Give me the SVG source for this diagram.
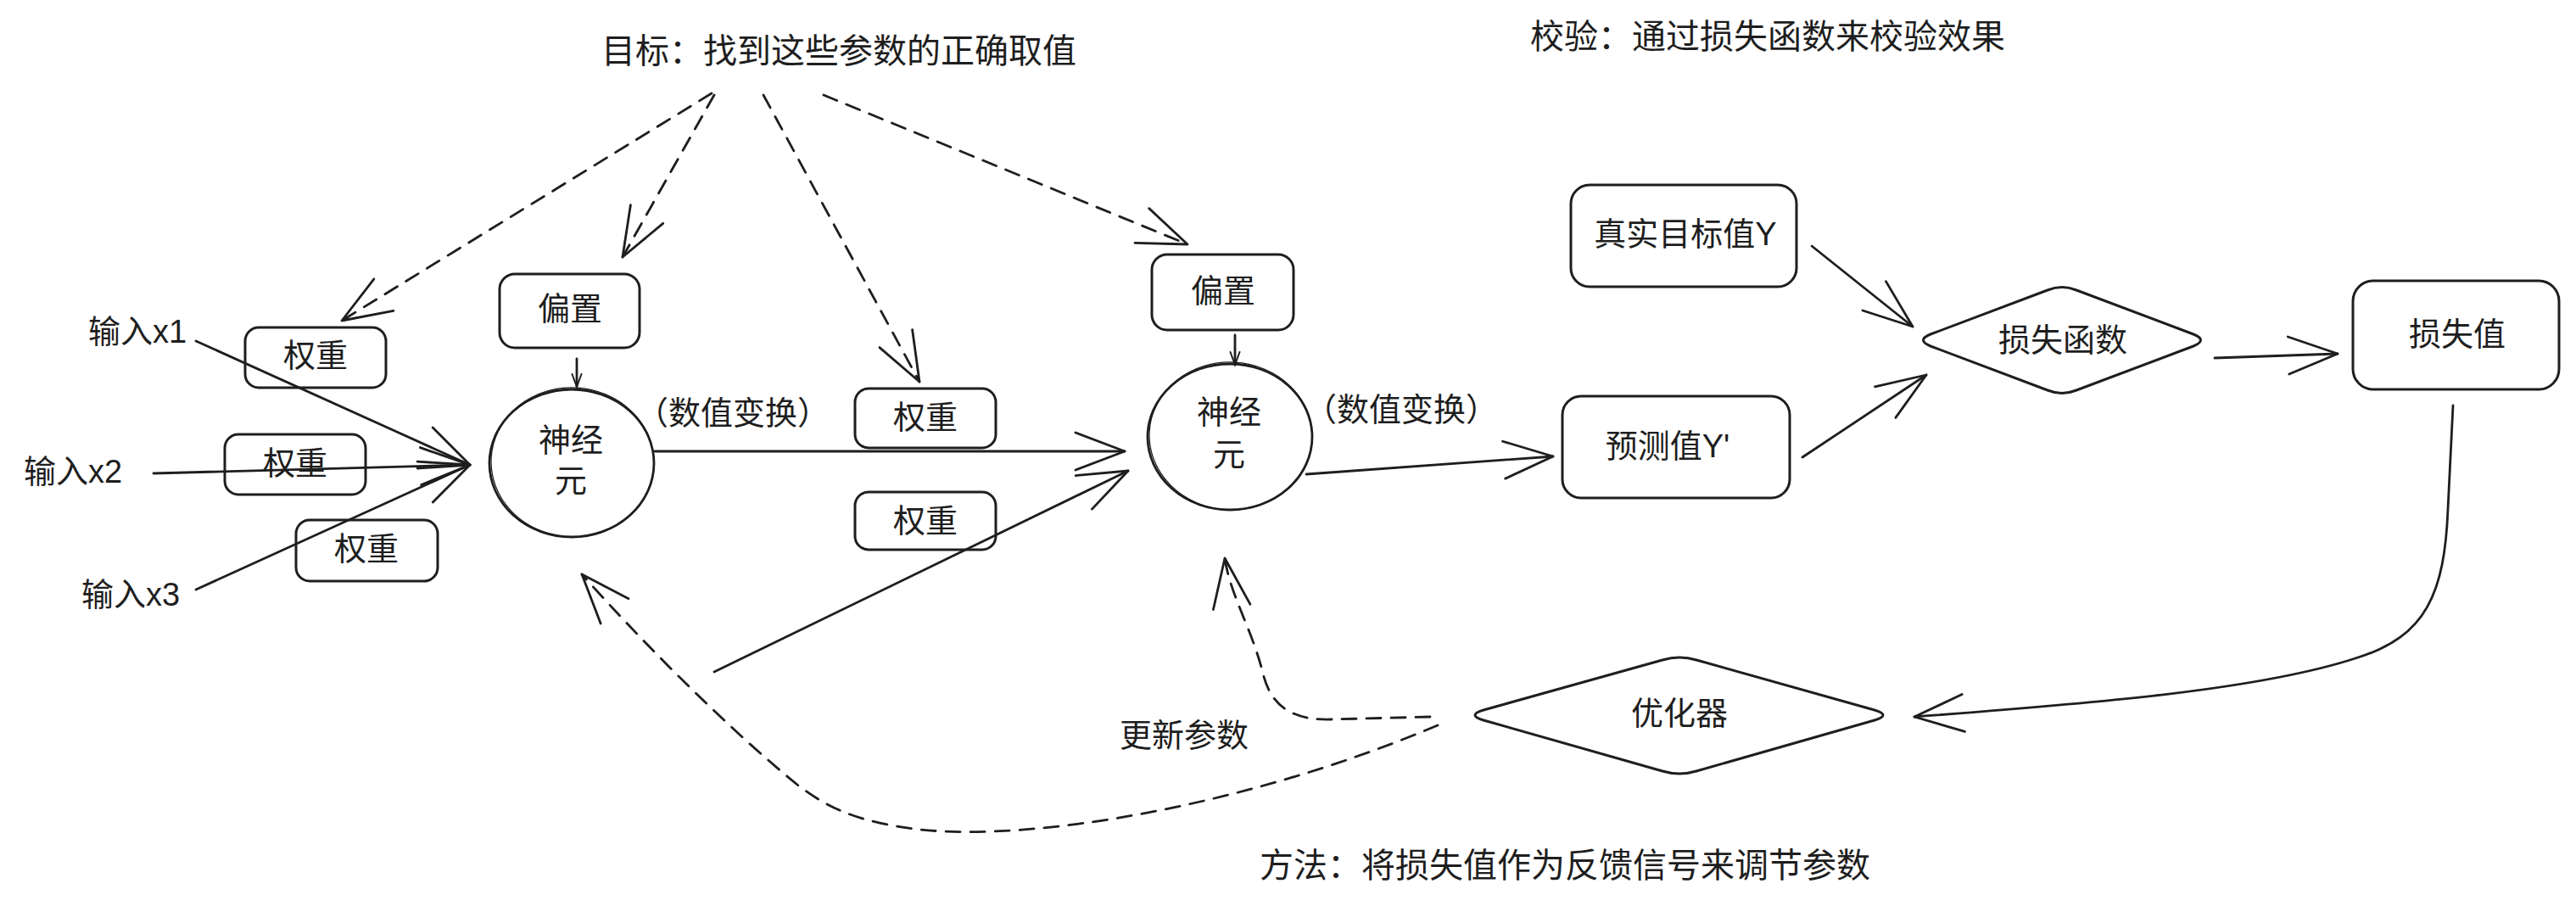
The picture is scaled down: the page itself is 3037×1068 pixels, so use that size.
<svg xmlns="http://www.w3.org/2000/svg" width="3037" height="1068" viewBox="0 0 3037 1068">
<style>
.t{font-family:"Liberation Sans","Noto Sans CJK SC",sans-serif;font-size:38px;fill:#1e1e1e;text-anchor:middle}
.n{font-size:40px}
.box{fill:none;stroke:#1e1e1e;stroke-width:3}
.c{fill:none;stroke:#1e1e1e;stroke-width:2.8;stroke-linecap:round;stroke-linejoin:round}
.d{stroke-dasharray:17 12}
</style>
<defs>
<marker id="arr" viewBox="-62 -26 66 52" refX="0" refY="0" markerWidth="66" markerHeight="52" markerUnits="userSpaceOnUse" orient="auto">
<path d="M-58,-22 L0,0 L-58,22" fill="none" stroke="#1e1e1e" stroke-width="2.8" stroke-linecap="round" stroke-linejoin="round"/>
</marker>
<marker id="sm" viewBox="-18 -8 20 16" refX="0" refY="0" markerWidth="20" markerHeight="16" markerUnits="userSpaceOnUse" orient="auto">
<path d="M-15,-5.5 L0,0 L-15,5.5" fill="none" stroke="#1e1e1e" stroke-width="2" stroke-linecap="round"/>
</marker>
</defs>
<rect width="3037" height="1068" fill="#fff"/>

<g id="connectors">
<path class="c" d="M231,402 L554,548" marker-end="url(#arr)"/>
<path class="c" d="M181,558 L554,548" marker-end="url(#arr)"/>
<path class="c" d="M231,695 L554,548" marker-end="url(#arr)"/>
<path class="c" d="M680,423 L680,456" marker-end="url(#sm)"/>
<path class="c" d="M772,532 L1326,532" marker-end="url(#arr)"/>
<path class="c" d="M842,792 L1330,555" marker-end="url(#arr)"/>
<path class="c" d="M1456,395 L1456,430" marker-end="url(#sm)"/>
<path class="c" d="M1540,559 L1831,538" marker-end="url(#arr)"/>
<path class="c" d="M2136,290 L2255,385" marker-end="url(#arr)"/>
<path class="c" d="M2125,539 L2271,442" marker-end="url(#arr)"/>
<path class="c" d="M2611,422 L2756,417" marker-end="url(#arr)"/>
<path class="c" d="M2892,478 L2886,600 C2882,700 2860,750 2780,775 C2660,815 2450,830 2257,845" marker-end="url(#arr)"/>
<path class="c d" d="M1686,845 L1570,848 C1510,850 1495,820 1488,790 C1475,740 1450,700 1444,658" marker-end="url(#arr)"/>
<path class="c d" d="M1695,855 C1470,950 1220,992 1085,978 C1010,969 975,952 940,925 C860,860 760,760 686,677" marker-end="url(#arr)"/>
<path class="c d" d="M839,110 L403,378" marker-end="url(#arr)"/>
<path class="c d" d="M842,112 L734,303" marker-end="url(#arr)"/>
<path class="c d" d="M900,112 L1084,450" marker-end="url(#arr)"/>
<path class="c d" d="M971,112 L1400,288" marker-end="url(#arr)"/>
</g>

<g id="goal"><text class="t n" x="989" y="74">目标：找到这些参数的正确取值</text></g>
<g id="verify"><text class="t n" x="2084" y="57">校验：通过损失函数来校验效果</text></g>
<g id="method"><text class="t n" x="1845" y="1034">方法：将损失值作为反馈信号来调节参数</text></g>

<g id="input-x1"><text class="t" x="162" y="404">输入x1</text></g>
<g id="input-x2"><text class="t" x="86" y="569">输入x2</text></g>
<g id="input-x3"><text class="t" x="154" y="714">输入x3</text></g>

<g id="weight-1"><rect class="box" x="289" y="386" width="166" height="71" rx="16"/><text class="t" x="372" y="432">权重</text></g>
<g id="weight-2"><rect class="box" x="265" y="512" width="166" height="71" rx="16"/><text class="t" x="348" y="559">权重</text></g>
<g id="weight-3"><rect class="box" x="349" y="613" width="167" height="72" rx="16"/><text class="t" x="432" y="660">权重</text></g>

<g id="bias-1"><rect class="box" x="589" y="323" width="165" height="87" rx="18"/><text class="t" x="672" y="377">偏置</text></g>

<g id="neuron-1">
<ellipse cx="674" cy="546" rx="97" ry="87" fill="none" stroke="#1e1e1e" stroke-width="2.8"/>
<ellipse cx="675" cy="545" rx="96" ry="88" fill="none" stroke="#1e1e1e" stroke-width="1.2" transform="rotate(3 675 545)"/>
<text class="t" x="673" y="532">神经</text><text class="t" x="673" y="580">元</text>
</g>
<g id="transform-1"><text class="t" x="864" y="500">（数值变换）</text></g>

<g id="weight-4"><rect class="box" x="1008" y="458" width="166" height="70" rx="16"/><text class="t" x="1091" y="505">权重</text></g>
<g id="weight-5"><rect class="box" x="1008" y="580" width="166" height="68" rx="16"/><text class="t" x="1091" y="627">权重</text></g>

<g id="bias-2"><rect class="box" x="1358" y="300" width="167" height="89" rx="18"/><text class="t" x="1442" y="356">偏置</text></g>

<g id="neuron-2">
<ellipse cx="1450" cy="515" rx="97" ry="86" fill="none" stroke="#1e1e1e" stroke-width="2.8"/>
<ellipse cx="1451" cy="514" rx="96" ry="87" fill="none" stroke="#1e1e1e" stroke-width="1.2" transform="rotate(3 1451 514)"/>
<text class="t" x="1449" y="499">神经</text><text class="t" x="1449" y="549">元</text>
</g>
<g id="transform-2"><text class="t" x="1652" y="496">（数值变换）</text></g>

<g id="target-y"><rect class="box" x="1852" y="218" width="266" height="120" rx="22"/><text class="t" x="1987" y="289">真实目标值Y</text></g>
<g id="pred-y"><rect class="box" x="1842" y="467" width="268" height="120" rx="22"/><text class="t" x="1966" y="539">预测值Y'</text></g>

<g id="loss-fn">
<path class="box" d="M2276,394 L2414,342 Q2431,335 2448,342 L2586,394 Q2603,401 2586,408 L2448,460 Q2431,467 2414,460 L2276,408 Q2259,401 2276,394 Z"/>
<text class="t" x="2432" y="414">损失函数</text>
</g>

<g id="loss-value"><rect class="box" x="2774" y="331" width="243" height="128" rx="24"/><text class="t" x="2897" y="407">损失值</text></g>

<g id="optimizer">
<path class="box" d="M1749,837 L1960,778 Q1980,772 2000,778 L2210,837 Q2230,843 2210,849 L2000,909 Q1980,915 1960,909 L1749,849 Q1729,843 1749,837 Z"/>
<text class="t" x="1980" y="854">优化器</text>
</g>

<g id="update-label"><text class="t" x="1396" y="880">更新参数</text></g>
</svg>
